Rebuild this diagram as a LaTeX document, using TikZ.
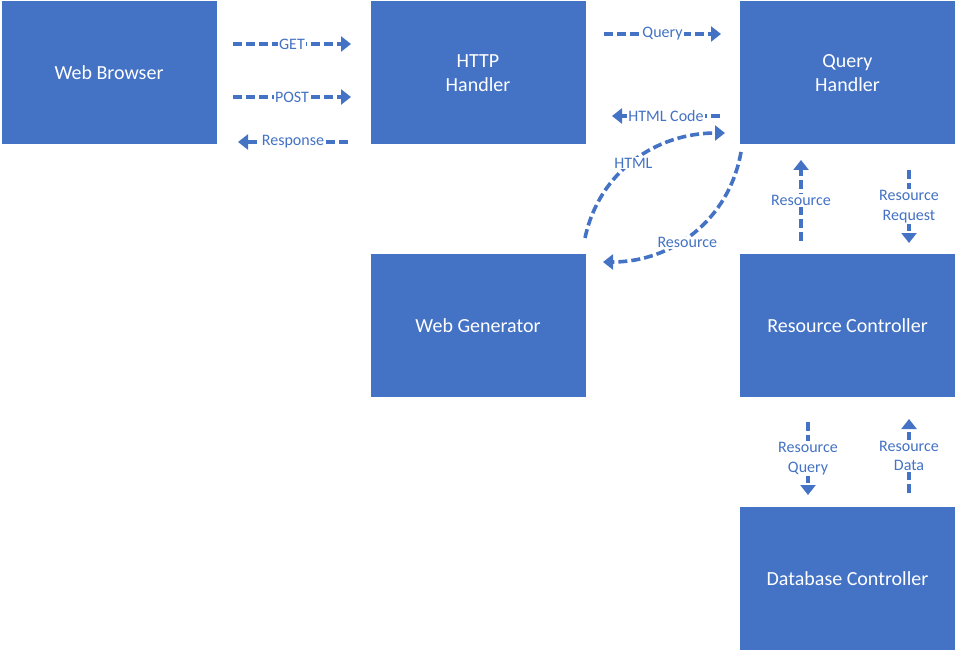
\documentclass[tikz,border=0pt]{standalone}
\usepackage{fontspec}
\setmainfont{Carlito}
\usetikzlibrary{arrows.meta}
\definecolor{boxblue}{HTML}{4472C4}
\tikzset{
  block/.style={draw=none, fill=boxblue, text=white, minimum width=215pt, minimum height=143pt,
    align=center, inner sep=0pt, font=\fontsize{20}{24}\selectfont},
  flow/.style={draw=boxblue, line width=3.6pt, dash pattern=on 9pt off 4pt,
    -{Triangle[width=15pt,length=10pt]}},
  lbl/.style={fill=white, text=boxblue, inner sep=1pt, align=center,
    font=\fontsize{16}{19.5}\selectfont}
}
\begin{document}
\begin{tikzpicture}[x=1pt,y=-1pt]
\useasboundingbox (0,0) rectangle (957,652);

% Blocks
\node [block] (browser) at (109,73) {Web Browser};
\node [block] (http) at (478,73) {HTTP\\Handler};
\node [block] (query) at (847.5,73) {Query\\Handler};
\node [block] (webgen) at (478,325.5) {Web Generator};
\node [block] (rescon) at (847.5,325.5) {Resource Controller};
\node [block] (dbcon) at (847.5,578.5) {Database Controller};

% Ends of the connectors
\coordinate (getA) at (233,44);   \coordinate (getB) at (351,44);
\coordinate (postA) at (233,97);  \coordinate (postB) at (351,97);
\coordinate (respA) at (348,142); \coordinate (respB) at (238,142);
\coordinate (qryA) at (604,34);   \coordinate (qryB) at (721,34);
\coordinate (codeA) at (720,116); \coordinate (codeB) at (612,116);
\coordinate (htmlA) at (585,238); \coordinate (htmlB) at (725,133);
\coordinate (resA) at (741,152);  \coordinate (resB) at (603,262);
\coordinate (upA) at (801,241);   \coordinate (upB) at (801,160);
\coordinate (reqA) at (909,170);  \coordinate (reqB) at (909,243);
\coordinate (rqA) at (808,422);   \coordinate (rqB) at (808,495);
\coordinate (rdA) at (909,493);   \coordinate (rdB) at (909,419);

% Drawing browser <-> HTTP handler
\draw [flow] (getA) -- node [lbl] {GET} (getB);
\draw [flow] (postA) -- node [lbl] {POST} (postB);
\draw [flow] (respA) -- node [lbl] {Response} (respB);

% Drawing HTTP handler <-> query handler
\draw [flow] (qryA) -- node [lbl] {Query} (qryB);
\draw [flow] (codeA) -- node [lbl] {HTML Code} (codeB);

% Drawing web generator curves
\draw [flow] (htmlA) to [out=78,in=180] node [lbl, pos=0.45, above right=-2pt, xshift=-14pt, yshift=-3pt] {HTML} (htmlB);
\draw [flow] (resA) to [out=-100,in=0] node [lbl, pos=0.62, below right=0pt, xshift=-20pt, yshift=10pt] {Resource} (resB);

% Drawing query handler <-> resource controller
\draw [flow] (upA) -- node [lbl] {Resource} (upB);
\draw [flow] (reqA) -- node [lbl] {Resource\\Request} (reqB);

% Drawing resource controller <-> database controller
\draw [flow] (rqA) -- node [lbl] {Resource\\Query} (rqB);
\draw [flow] (rdA) -- node [lbl] {Resource\\Data} (rdB);
\end{tikzpicture}
\end{document}
